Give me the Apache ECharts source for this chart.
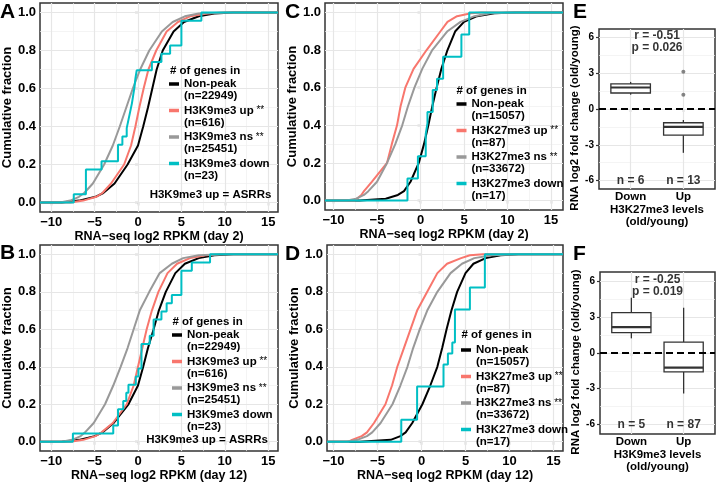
<!DOCTYPE html>
<html><head><meta charset="utf-8">
<script src="https://cdn.jsdelivr.net/npm/echarts@6/dist/echarts.min.js"></script>
<style>html,body{margin:0;padding:0;background:#fff}#c{width:716px;height:483px}</style>
</head><body><div id="c"></div>
<script>
// ---------------- DATA ----------------
// cumulative-fraction levels at which x positions were read off the curves
const ecdfLevels = [0, 0.01, 0.03, 0.05, 0.1, 0.2, 0.3, 0.4, 0.5, 0.6, 0.7, 0.8, 0.9, 0.95, 0.98, 0.995, 1];

// Panel A (day 2, H3K9me3)
const aNonPeak = [-8.8, -6.8, -4.9, -4.0, -2.7, -1.2, 0.0, 0.6, 1.15, 1.65, 2.15, 2.85, 4.1, 5.3, 7.0, 8.8, 11.0];
const aUp      = [-7.8, -6.3, -4.8, -4.1, -3.1, -1.6, -0.8, -0.3, 0.15, 0.65, 1.2, 2.1, 3.3, 4.6, 6.0, 8.0, 10.0];
const aNs      = [-9.0, -7.8, -6.8, -6.2, -5.2, -3.9, -2.9, -2.1, -1.35, -0.6, 0.25, 1.3, 2.75, 4.0, 5.4, 7.0, 10.0];
const aDown    = [-7.4, -6.0, -6.0, -6.0, -4.2, -2.3, -2.3, -1.8, -1.3, -1.1, -0.9, -0.7, -0.55, -0.4, -0.3, -0.15, 1.6, 2.7, 3.7, 5.0, 5.0, 5.0, 7.3];

// Panel B (day 12, H3K9me3)
const bNonPeak = [-8.8, -6.8, -5.0, -4.1, -2.8, -1.1, 0.0, 0.6, 1.15, 1.8, 2.4, 3.2, 4.3, 5.4, 7.0, 8.8, 11.0];
const bUp      = [-7.8, -6.3, -4.9, -4.2, -2.9, -1.3, -0.5, 0.0, 0.5, 1.0, 1.6, 2.35, 3.4, 4.5, 6.0, 7.8, 9.5];
const bNs      = [-8.8, -7.6, -6.6, -6.1, -5.1, -3.8, -2.85, -2.0, -1.2, -0.5, 0.2, 1.3, 2.5, 3.9, 5.2, 7.0, 10.0];
const bDown    = [-7.5, -2.85, -2.3, -2.3, -1.7, -1.35, -1.1, -0.25, 0.05, 0.4, 0.4, 0.4, 1.35, 1.8, 1.8, 2.7, 3.3, 3.9, 5.0, 5.0, 5.0, 6.2, 8.3];

// Panel C (day 2, H3K27me3)
const cNonPeak = [-7.0, -4.0, -2.6, -1.9, -1.15, -0.2, 0.4, 0.9, 1.35, 1.85, 2.4, 3.1, 4.0, 5.0, 6.5, 8.5, 11.0];
const cUp      = [-7.6, -7.3, -6.8, -6.5, -5.6, -3.85, -3.3, -2.7, -2.3, -1.75, -0.8, 0.7, 2.3, 3.1, 4.2, 5.8, 7.0];
const cNs      = [-8.5, -7.4, -6.5, -6.0, -5.0, -3.85, -2.9, -2.1, -1.45, -0.7, 0.2, 1.35, 3.1, 4.6, 6.2, 8.0, 11.0];
const cDown    = [-1.5, -1.5, -0.3, -0.3, 0.6, 0.6, 0.8, 0.8, 1.4, 1.4, 1.9, 2.6, 2.6, 4.7, 4.7, 5.6, 5.6];

// Panel D (day 12, H3K27me3)
const dNonPeak = [-7.0, -3.5, -2.4, -1.8, -1.05, 0.1, 1.0, 1.8, 2.35, 2.85, 3.4, 4.05, 5.0, 5.9, 7.3, 9.0, 11.0];
const dUp      = [-8.3, -7.9, -6.8, -6.2, -5.4, -4.1, -3.35, -2.75, -2.0, -1.25, -0.5, 0.65, 1.8, 2.9, 4.5, 5.5, 7.0];
const dNs      = [-8.5, -7.3, -6.2, -5.6, -4.65, -3.3, -2.4, -1.6, -0.95, -0.2, 0.65, 1.8, 3.3, 4.6, 6.0, 8.0, 11.0];
const dDown    = [-2.3, -2.3, -0.5, -0.5, -0.5, 2.5, 2.5, 3.0, 3.5, 3.8, 3.8, 3.8, 5.5, 5.5, 7.2, 7.2, 7.2];

// legend groups
const k9Groups  = ['Non-peak', 'H3K9me3 up', 'H3K9me3 ns', 'H3K9me3 down'];
const k27Groups = ['Non-peak', 'H3K27me3 up', 'H3K27me3 ns', 'H3K27me3 down'];
const groupSig  = ['', ' **', ' **', ''];
const k9Counts  = [22949, 616, 25451, 23];
const k27Counts = [15057, 87, 33672, 17];

// tick labels
const ecdfXTicks = [-10, -5, 0, 5, 10, 15];
const ecdfXMinor = [-7.5, -2.5, 2.5, 7.5, 12.5];
const ecdfYTicks = [0, 0.2, 0.4, 0.6, 0.8, 1];
const ecdfYMinor = [0.1, 0.3, 0.5, 0.7, 0.9];
const boxYTicks = [-6, -3, 0, 3, 6];
const boxYMinor = [-4.5, -1.5, 1.5, 4.5];

// Box plots: [min, q1, median, q3, max]
const boxCats = ['Down', 'Up'];
const boxE = [[1.2, 1.34, 1.8, 2.1, 2.27], [-3.67, -2.19, -1.49, -1.15, -0.92]];
const outE = [3.13, 1.2];            // outliers of "Up"
const boxF = [[1.23, 1.71, 2.18, 3.39, 4.64], [-3.4, -1.59, -1.22, 0.92, 3.8]];
const outF = [];
const eStats = ['r = -0.51', 'p = 0.026'];
const fStats = ['r = -0.25', 'p = 0.019'];
const eCounts = ['n = 6', 'n = 13'];
const fCounts = ['n = 5', 'n = 87'];

// ---------------- BUILD ----------------
const FONT = "'Liberation Sans', Arial, Helvetica, sans-serif";
const COLS = ['#000000', '#F8766D', '#999999', '#00BFC4'];
const MAJ = {color: '#E6E6E6', width: 1.2, type: 'solid'};
const MIN = {color: '#EFEFEF', width: 0.7, type: 'solid'};
const bold = {fontFamily: FONT, fontWeight: 'bold', color: '#000'};

const panels = [
  {key: 'A', grid: {left: 40, top: 3, width: 238, height: 209}, xr: [-11.29, 16.13],
   curves: [aNonPeak, aUp, aNs], steps: aDown, groups: k9Groups, counts: k9Counts,
   xTitle: 'RNA\u2212seq log2 RPKM (day 2)', legend: {left: 169, top: 66}, head: [170, 71],
   note: {text: 'H3K9me3 up = ASRRs', x: 210.5, y: 195}, letter: [0, 12]},
  {key: 'B', grid: {left: 40, top: 245, width: 238, height: 208}, xr: [-11.29, 16.13],
   curves: [bNonPeak, bUp, bNs], steps: bDown, groups: k9Groups, counts: k9Counts,
   xTitle: 'RNA\u2212seq log2 RPKM (day 12)', legend: {left: 172, top: 317}, head: [172.5, 321.5],
   note: {text: 'H3K9me3 up = ASRRs', x: 207, y: 440}, letter: [0, 253]},
  {key: 'C', grid: {left: 325, top: 3, width: 238, height: 207}, xr: [-10.98, 16.38],
   curves: [cNonPeak, cUp, cNs], steps: cDown, groups: k27Groups, counts: k27Counts,
   xTitle: 'RNA\u2212seq log2 RPKM (day 2)', legend: {left: 456.5, top: 86}, head: [456.5, 91],
   note: null, letter: [285, 12]},
  {key: 'D', grid: {left: 327, top: 245, width: 236, height: 209}, xr: [-10.74, 16.08],
   curves: [dNonPeak, dUp, dNs], steps: dDown, groups: k27Groups, counts: k27Counts,
   xTitle: 'RNA\u2212seq log2 RPKM (day 12)', legend: {left: 461, top: 332}, head: [461.5, 335],
   note: null, letter: [285, 254.5]}
];

const boxPanels = [
  {key: 'E', grid: {left: 599, top: 29, width: 116, height: 160}, yr: [-6.7, 6.7],
   boxes: boxE, outliers: outE, stats: eStats, counts: eCounts,
   xTitle: 'H3K27me3 levels\n(old/young)', letter: [573, 12]},
  {key: 'F', grid: {left: 600, top: 272, width: 115, height: 162}, yr: [-6.8, 6.8],
   boxes: boxF, outliers: outF, stats: fStats, counts: fCounts,
   xTitle: 'H3K9me3 levels\n(old/young)', letter: [573, 254.5]}
];

function curvePoints(xs, xr) {
  const pts = [[xr[0], 0]];
  xs.forEach((x, i) => pts.push([x, ecdfLevels[i]]));
  pts.push([xr[1], 1]);
  return pts;
}
function stepPoints(vals, xr) {
  const n = vals.length;
  const pts = [[xr[0], 0]];
  vals.forEach((v, i) => pts.push([v, (i + 1) / n]));
  pts.push([xr[1], 1]);
  return pts;
}
const fmtSigned = v => (v < 0 ? '\u2212' + Math.abs(v) : String(v));

const grids = [], xAxes = [], yAxes = [], series = [], legends = [], graphics = [];
const tick = {show: true, length: 3, lineStyle: {color: '#333', width: 1.2}};

function textEl(text, x, y, size, align, weight) {
  return {type: 'text', z: 50, silent: true,
    style: {text: text, x: x, y: y, font: (weight || 'bold') + ' ' + size + 'px ' + FONT,
      fill: '#000', align: align, verticalAlign: 'middle', textAlign: align, textVerticalAlign: 'middle'}};
}

panels.forEach((p, i) => {
  grids.push(Object.assign({show: true, borderColor: '#333', borderWidth: 1.5, backgroundColor: '#fff'}, p.grid));
  xAxes.push({gridIndex: i, type: 'value', min: p.xr[0], max: p.xr[1],
    axisLine: {show: false}, splitLine: {show: false},
    axisTick: Object.assign({customValues: ecdfXTicks}, tick),
    axisLabel: Object.assign({customValues: ecdfXTicks, formatter: fmtSigned, margin: 4, fontSize: 13}, bold),
    name: p.xTitle, nameLocation: 'middle', nameGap: 14,
    nameTextStyle: Object.assign({fontSize: 12.5}, bold)});
  yAxes.push({gridIndex: i, type: 'value', min: -0.05, max: 1.05,
    axisLine: {show: false}, splitLine: {show: false},
    axisTick: Object.assign({customValues: ecdfYTicks}, tick),
    axisLabel: Object.assign({customValues: ecdfYTicks, formatter: v => v.toFixed(1), margin: 4, fontSize: 13}, bold),
    name: 'Cumulative fraction', nameLocation: 'middle', nameGap: 23,
    nameTextStyle: Object.assign({fontSize: 13}, bold)});
  // grid lines
  series.push({type: 'line', xAxisIndex: i, yAxisIndex: i, data: [], silent: true, z: 1,
    markLine: {silent: true, symbol: ['none', 'none'], label: {show: false}, animation: false, z: 1,
      data: [].concat(
        ecdfXMinor.map(v => ({xAxis: v, lineStyle: MIN})),
        ecdfYMinor.map(v => ({yAxis: v, lineStyle: MIN})),
        ecdfXTicks.map(v => ({xAxis: v, lineStyle: MAJ})),
        ecdfYTicks.map(v => ({yAxis: v, lineStyle: MAJ})))}});
  const names = [];
  const legendMap = {};
  p.groups.forEach((g, k) => {
    const nm = p.key + ': ' + g;
    names.push(nm);
    legendMap[nm] = '\n{t|' + g + '}' + (groupSig[k] ? '{s|' + groupSig[k] + '}' : '') + '\n{n|(n=' + p.counts[k] + ')}';
    const isStep = k === 3;
    const data = isStep ? stepPoints(p.steps, p.xr) : curvePoints(p.curves[k], p.xr);
    series.push({type: 'line', name: nm, xAxisIndex: i, yAxisIndex: i, data: data,
      step: isStep ? 'end' : false, showSymbol: false, symbol: 'none', clip: true, silent: true,
      color: COLS[k], itemStyle: {color: COLS[k]}, lineStyle: {color: COLS[k], width: 2},
      emphasis: {disabled: true}, z: 3 + k});
  });
  legends.push({orient: 'vertical', left: p.legend.left, top: p.legend.top, padding: 0, itemGap: -9.5,
    itemWidth: 10, itemHeight: 3.5, icon: 'rect', selectedMode: false, data: names,
    formatter: nm => legendMap[nm],
    textStyle: {fontFamily: FONT, fontSize: 11.5, lineHeight: 12, color: '#000', fontWeight: 'bold',
      rich: {
        t: {fontFamily: FONT, fontSize: 11.5, fontWeight: 'bold', lineHeight: 12, color: '#000'},
        s: {fontFamily: FONT, fontSize: 10, fontWeight: 'normal', lineHeight: 12, color: '#000'},
        n: {fontFamily: FONT, fontSize: 11.5, fontWeight: 'bold', lineHeight: 12, color: '#000'}}}});
  graphics.push(textEl('# of genes in', p.head[0], p.head[1], 11.5, 'left'));
  if (p.note) graphics.push(textEl(p.note.text, p.note.x, p.note.y, 11.5, 'center'));
  graphics.push(textEl(p.key, p.letter[0], p.letter[1], 21, 'left'));
});

boxPanels.forEach((b, j) => {
  const i = panels.length + j;
  grids.push(Object.assign({show: true, borderColor: '#333', borderWidth: 1.5, backgroundColor: '#fff'}, b.grid));
  xAxes.push({gridIndex: i, type: 'value', min: 0.4, max: 2.6,
    axisLine: {show: false}, splitLine: {show: false},
    axisTick: Object.assign({customValues: [1, 2]}, tick),
    axisLabel: Object.assign({customValues: [1, 2], formatter: v => boxCats[Math.round(v) - 1], margin: 2, fontSize: 11.5}, bold),
    name: b.xTitle, nameLocation: 'middle', nameGap: 13,
    nameTextStyle: Object.assign({fontSize: 11.5, lineHeight: 12}, bold)});
  yAxes.push({gridIndex: i, type: 'value', min: b.yr[0], max: b.yr[1],
    axisLine: {show: false}, splitLine: {show: false},
    axisTick: Object.assign({customValues: boxYTicks}, tick),
    axisLabel: Object.assign({customValues: boxYTicks, formatter: v => String(v), margin: 5, fontSize: 10}, bold),
    name: 'RNA log2 fold change (old/young)', nameLocation: 'middle', nameGap: 12,
    nameTextStyle: Object.assign({fontSize: 11.5, padding: [0, 18, 0, 0]}, bold)});
  series.push({type: 'line', xAxisIndex: i, yAxisIndex: i, data: [], silent: true, z: 1,
    markLine: {silent: true, symbol: ['none', 'none'], label: {show: false}, animation: false, z: 1,
      data: [].concat(
        boxYMinor.map(v => ({yAxis: v, lineStyle: MIN})),
        boxYTicks.map(v => ({yAxis: v, lineStyle: MAJ})),
        [1, 2].map(v => ({xAxis: v, lineStyle: MAJ})))}});
  series.push({type: 'custom', xAxisIndex: i, yAxisIndex: i, silent: true, z: 3,
    data: b.boxes.map((bx, k) => [k + 1].concat(bx)),
    renderItem: (params, api) => {
      const x = api.value(0);
      const pMin = api.coord([x, api.value(1)]), pQ1 = api.coord([x, api.value(2)]),
            pMed = api.coord([x, api.value(3)]), pQ3 = api.coord([x, api.value(4)]),
            pMax = api.coord([x, api.value(5)]);
      const hw = api.size([0.75, 0])[0] / 2;
      const st = {stroke: '#333', lineWidth: 1.3};
      return {type: 'group', children: [
        {type: 'line', shape: {x1: pMax[0], y1: pMax[1], x2: pQ3[0], y2: pQ3[1]}, style: st},
        {type: 'line', shape: {x1: pQ1[0], y1: pQ1[1], x2: pMin[0], y2: pMin[1]}, style: st},
        {type: 'rect', shape: {x: pQ3[0] - hw, y: pQ3[1], width: 2 * hw, height: pQ1[1] - pQ3[1]},
         style: {stroke: '#333', lineWidth: 1.3, fill: '#fff'}},
        {type: 'line', shape: {x1: pMed[0] - hw, y1: pMed[1], x2: pMed[0] + hw, y2: pMed[1]},
         style: {stroke: '#333', lineWidth: 2.2}}
      ]};
    }});
  series.push({type: 'scatter', xAxisIndex: i, yAxisIndex: i, silent: true, z: 4,
    data: b.outliers.map(v => [2, v]), symbolSize: 4, itemStyle: {color: '#666'}});
  // zero dashed line
  series.push({type: 'line', xAxisIndex: i, yAxisIndex: i, data: [], silent: true, z: 6,
    markLine: {silent: true, symbol: ['none', 'none'], label: {show: false}, animation: false, z: 6,
      data: [{yAxis: 0, lineStyle: {color: '#000', width: 1.8, type: [7, 4]}}]}});
  // annotations
  series.push({type: 'scatter', xAxisIndex: i, yAxisIndex: i, silent: true, z: 7, symbolSize: 0,
    data: [{value: [1.5, 5.65]}],
    label: Object.assign({show: true, position: 'inside', formatter: b.stats.join('\n'),
      fontSize: 12, lineHeight: 11.5, align: 'center'}, bold)});
  series.push({type: 'scatter', xAxisIndex: i, yAxisIndex: i, silent: true, z: 7, symbolSize: 0,
    data: b.counts.map((c, k) => ({value: [k + 1, -6], name: c})),
    label: Object.assign({show: true, position: 'inside', formatter: pr => pr.name, fontSize: 12}, bold)});
  graphics.push(textEl(b.key, b.letter[0], b.letter[1], 21, 'left'));
});

const chart = echarts.init(document.getElementById('c'), null, {renderer: 'canvas', width: 716, height: 483});
chart.setOption({
  animation: false,
  backgroundColor: '#fff',
  grid: grids, xAxis: xAxes, yAxis: yAxes, series: series, legend: legends,
  graphic: {elements: graphics}
});
</script></body></html>
